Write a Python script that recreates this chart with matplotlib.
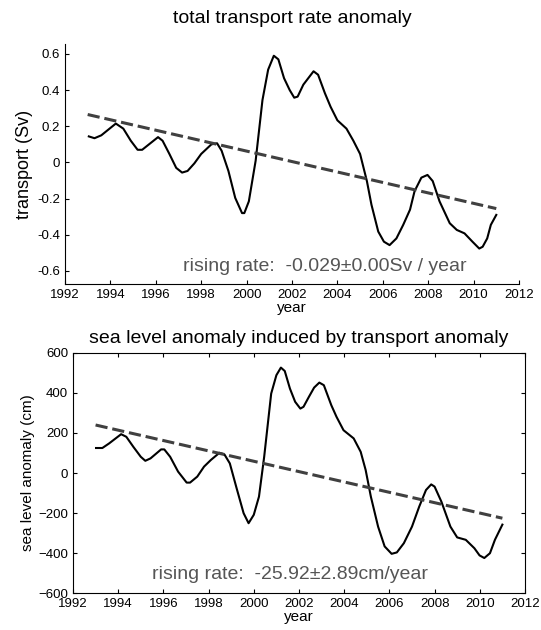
import matplotlib
matplotlib.use("Agg")
import matplotlib.pyplot as plt

plt.rcParams["font.family"] = ["Liberation Sans", "DejaVu Sans"]

# transport anomaly (Sv)
tr_years = [1993.05, 1993.3, 1993.6, 1994.24, 1994.57, 1994.9, 1995.2, 1995.4, 1995.7, 1996.1,
            1996.3, 1996.6, 1996.9, 1997.16, 1997.4, 1997.7, 1998.0, 1998.45, 1998.7, 1998.9,
            1999.2, 1999.5, 1999.8, 1999.9, 2000.1, 2000.4, 2000.7, 2000.95, 2001.2, 2001.4,
            2001.65, 2001.9, 2002.1, 2002.25, 2002.5, 2002.95, 2003.15, 2003.45, 2003.7, 2004.0,
            2004.4, 2004.7, 2005.0, 2005.3, 2005.5, 2005.8, 2006.05, 2006.3, 2006.6, 2006.9,
            2007.2, 2007.4, 2007.7, 2007.97, 2008.2, 2008.5, 2008.95, 2009.26, 2009.6, 2009.95,
            2010.25, 2010.4, 2010.6, 2010.76, 2011.0]
tr_vals = [0.144, 0.134, 0.15, 0.215, 0.187, 0.12, 0.07, 0.07, 0.10, 0.14,
           0.12, 0.047, -0.03, -0.056, -0.047, -0.005, 0.047, 0.10, 0.106, 0.065,
           -0.047, -0.196, -0.28, -0.28, -0.215, 0.01, 0.345, 0.513, 0.59, 0.57,
           0.466, 0.40, 0.358, 0.364, 0.43, 0.504, 0.485, 0.383, 0.308, 0.233,
           0.187, 0.121, 0.047, -0.103, -0.233, -0.382, -0.438, -0.457, -0.42, -0.345,
           -0.261, -0.159, -0.084, -0.069, -0.103, -0.215, -0.336, -0.373, -0.392, -0.438,
           -0.476, -0.466, -0.42, -0.345, -0.29]
tr_trend_years = [1993.0, 2011.0]
tr_trend_vals = [0.265, -0.255]

# sea level anomaly (cm)
sl_years = [1993.02, 1993.3, 1993.6, 1994.13, 1994.36, 1994.67, 1995.0, 1995.2, 1995.43, 1995.9,
            1996.04, 1996.3, 1996.65, 1997.03, 1997.18, 1997.5, 1997.8, 1998.1, 1998.48, 1998.7,
            1998.94, 1999.24, 1999.55, 1999.77, 2000.0, 2000.23, 2000.46, 2000.77, 2001.0, 2001.2,
            2001.37, 2001.6, 2001.83, 2002.06, 2002.2, 2002.44, 2002.67, 2002.9, 2003.1, 2003.43,
            2003.66, 2003.97, 2004.42, 2004.73, 2004.95, 2005.18, 2005.5, 2005.79, 2006.1, 2006.33,
            2006.64, 2007.0, 2007.32, 2007.62, 2007.85, 2008.0, 2008.3, 2008.7, 2009.0, 2009.38,
            2009.76, 2009.99, 2010.2, 2010.45, 2010.67, 2011.0]
sl_vals = [125, 125, 148, 194, 181, 131, 81, 61, 73, 118,
           118, 81, 7, -48, -48, -18, 32, 65, 101, 93,
           48, -76, -201, -251, -209, -118, 81, 397, 489, 527,
           510, 422, 356, 322, 331, 381, 427, 452, 439, 339,
           281, 214, 173, 106, 15, -118, -268, -367, -404, -397,
           -351, -268, -168, -85, -57, -68, -143, -268, -322, -334,
           -376, -412, -425, -401, -334, -258]
sl_trend_years = [1993.0, 2011.0]
sl_trend_vals = [240, -226]

year_ticks = list(range(1992, 2013, 2))

fig = plt.figure(figsize=(5.41, 6.3), dpi=100)

# upper panel (box off)
ax1 = fig.add_axes([0.1201, 0.5492, 0.8392, 0.381])
ax1.plot(tr_years, tr_vals, color="black", lw=1.5)
ax1.plot(tr_trend_years, tr_trend_vals, color="#404040", lw=2.2, ls=(0, (4, 1.6)))
ax1.set_xlim(1992, 2012)
ax1.set_ylim(-0.672, 0.655)
ax1.set_xticks(year_ticks)
ax1.set_yticks([-0.6, -0.4, -0.2, 0, 0.2, 0.4, 0.6])
ax1.set_yticklabels(["-0.6", "-0.4", "-0.2", "0", "0.2", "0.4", "0.6"])
ax1.spines["top"].set_visible(False)
ax1.spines["right"].set_visible(False)
ax1.tick_params(direction="in", length=3, labelsize=9.5)
ax1.set_title("total transport rate anomaly", fontsize=14, pad=15)
ax1.set_xlabel("year", fontsize=11, labelpad=0)
ax1.set_ylabel("transport (Sv)", fontsize=13, labelpad=3)
ax1.text(1997.2, -0.574, "rising rate:  -0.029\u00b10.00Sv / year", color="#555555",
         fontsize=14, va="center")

# lower panel (box on)
ax2 = fig.add_axes([0.1349, 0.0587, 0.8355, 0.381])
ax2.plot(sl_years, sl_vals, color="black", lw=1.5)
ax2.plot(sl_trend_years, sl_trend_vals, color="#404040", lw=2.2, ls=(0, (4, 1.6)))
ax2.set_xlim(1992, 2012)
ax2.set_ylim(-600, 600)
ax2.set_xticks(year_ticks)
ax2.set_yticks(range(-600, 601, 200))
ax2.tick_params(direction="in", length=3, labelsize=9.5, top=True, right=True)
ax2.set_title("sea level anomaly induced by transport anomaly", fontsize=14, pad=7)
ax2.set_xlabel("year", fontsize=11, labelpad=0)
ax2.set_ylabel("sea level anomaly (cm)", fontsize=11, labelpad=2)
ax2.text(1995.5, -505, "rising rate:  -25.92\u00b12.89cm/year", color="#555555",
         fontsize=14, va="center")

fig.savefig("out.png", dpi=100)
